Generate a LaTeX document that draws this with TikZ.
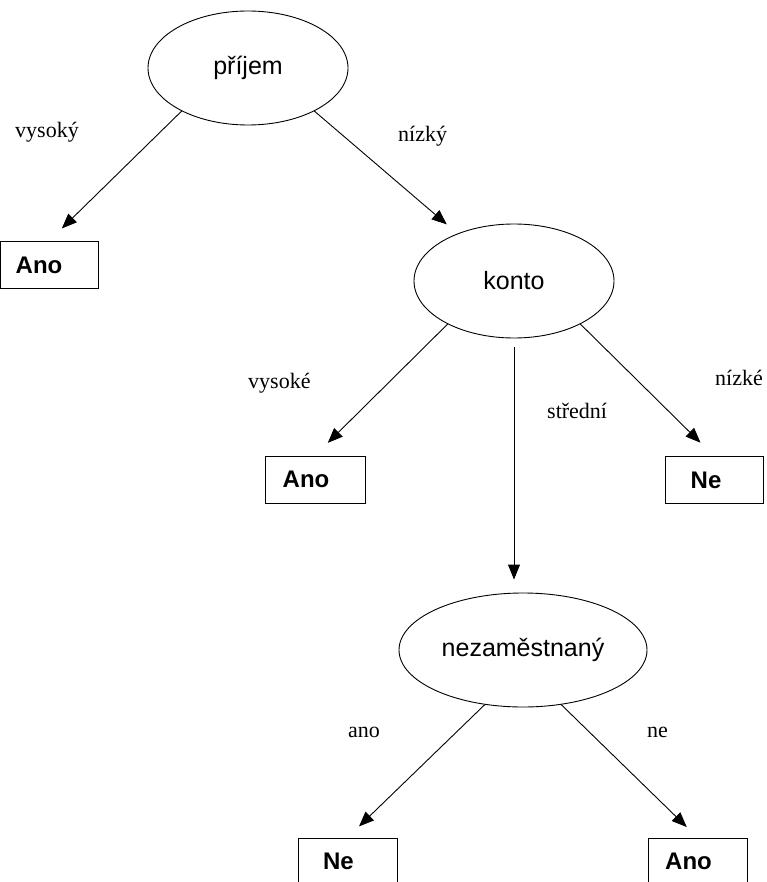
\documentclass[tikz,border=0pt]{standalone}
\usepackage{fontspec}
\setmainfont{Liberation Serif}
\newfontfamily\sansf{Liberation Sans}
\usetikzlibrary{arrows.meta,shapes.geometric}
\tikzset{
  attr/.style={ellipse, draw, line width=0.9pt, inner sep=0pt, minimum width=200pt, minimum height=114pt,
    font=\sansf\fontsize{25}{29}\selectfont},
  leaf/.style={rectangle, draw, line width=0.9pt, inner sep=0pt, minimum width=98pt, minimum height=47pt,
    font=\sansf\bfseries\fontsize{24}{28}\selectfont},
  lbl/.style={anchor=base west, inner sep=0pt, font=\fontsize{22}{26}\selectfont},
  edge/.style={line width=0.9pt, -{Triangle[length=15pt,width=12pt]}}
}
\begin{document}
\begin{tikzpicture}[x=1pt,y=-1pt]
\useasboundingbox (0,0) rectangle (767,882);
\clip (0,0) rectangle (767,882);
\node[attr] (prijem) at (248,68) {příjem};
\node[attr] (konto) at (514,281) {konto};
\node[attr, minimum width=248pt] (nez) at (523,650) {nezaměstnaný};
\node[leaf] (ano1) at (49,265) {Ano\kern20pt};
\node[leaf, minimum width=100pt] (ano2) at (315,479.5) {Ano\kern18pt};
\node[leaf] (ne1) at (714,480) {Ne\kern16pt};
\node[leaf, minimum width=99pt, minimum height=46pt] (ne2) at (347.5,861) {Ne\kern18pt};
\node[leaf, minimum width=99pt, minimum height=46pt] (ano3) at (697.5,861) {Ano\kern18pt};
\node[lbl] (l1) at (15,138) {vysoký};
\node[lbl] (l2) at (398,142) {nízký};
\node[lbl] (l3) at (248,388) {vysoké};
\node[lbl] (l4) at (547,418) {střední};
\node[lbl] (l5) at (715,385) {nízké};
\node[lbl] (l6) at (348,737) {ano};
\node[lbl] (l7) at (647,737) {ne};
\draw[edge, shorten >=18pt] (prijem.213.5) -- (ano1.north);
\draw[edge, shorten >=14pt] (prijem.327) -- (konto.140);
\draw[edge, shorten >=18pt] (konto.213.5) -- (ano2.north);
\draw[edge, shorten >=19pt] (konto.327) -- (ne1.north);
\draw[edge, shorten <=9pt, shorten >=13pt] (konto.south) -- (konto.south |- nez.north);
\draw[edge, shorten >=16pt] (nez.235) -- (ne2.north);
\draw[edge, shorten >=15pt] (nez.305) -- (ano3.north);
\end{tikzpicture}
\end{document}
